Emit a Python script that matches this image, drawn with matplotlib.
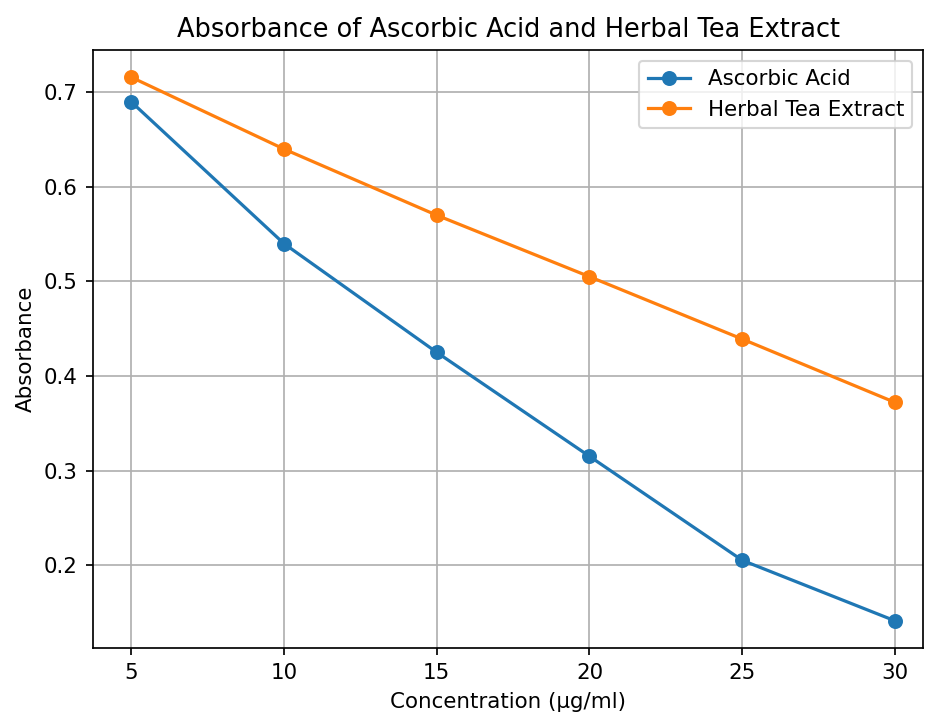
import matplotlib

matplotlib.use("Agg")
import matplotlib.pyplot as plt

concentration = [5, 10, 15, 20, 25, 30]
ascorbic_acid = [0.690, 0.540, 0.425, 0.315, 0.205, 0.141]
herbal_tea = [0.716, 0.640, 0.570, 0.505, 0.439, 0.372]

DPI = 154
fig, ax = plt.subplots(figsize=(925 / DPI, 714 / DPI), dpi=DPI)
ax.plot(concentration, ascorbic_acid, "o-", label="Ascorbic Acid")
ax.plot(concentration, herbal_tea, "o-", label="Herbal Tea Extract")
ax.set_title("Absorbance of Ascorbic Acid and Herbal Tea Extract")
ax.set_xlabel("Concentration (µg/ml)")
ax.set_ylabel("Absorbance")
ax.set_xticks(concentration)
# the reference is cropped on the right, so the right margin is narrower
ax.set_xlim(3.75, 30.92)
ax.legend()
ax.grid(True)
fig.subplots_adjust(left=0.1005, right=0.998, top=0.93, bottom=0.0924)
fig.savefig("out.png", dpi=DPI)
